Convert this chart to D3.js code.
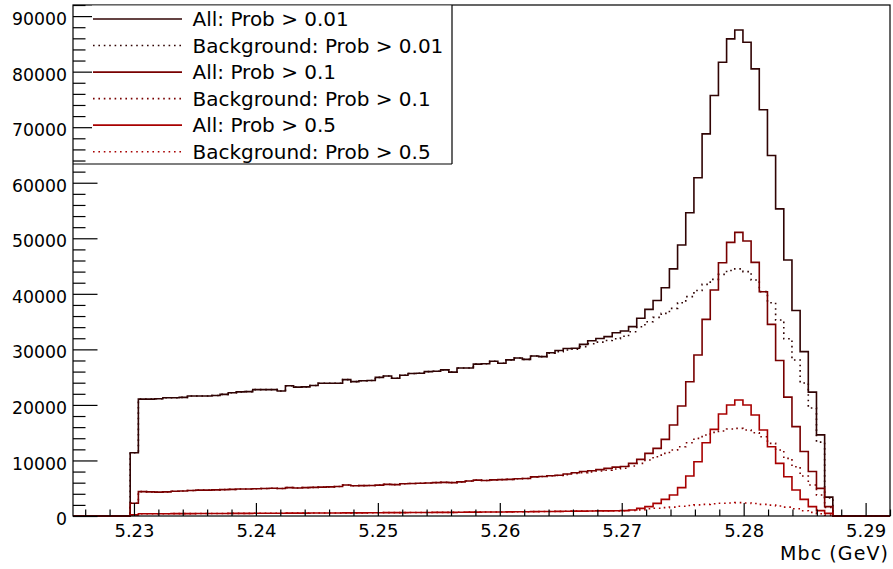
<!DOCTYPE html>
<html>
<head>
<meta charset="utf-8">
<script src="https://cdn.jsdelivr.net/npm/d3@7"></script>
<style>
  html, body { margin: 0; padding: 0; background: #fff; }
  svg { display: block; }
  text { font-family: "DejaVu Sans", sans-serif; fill: #000; }
</style>
</head>
<body>
<svg id="chart" width="893" height="569"></svg>
<script>
// ---- histogram binning ----
const binLow = 5.225;
const binWidth = 0.00067;   // 100 bins, 5.225 .. 5.292
const nBins = 100;

// ---- bin contents (bins 0..99) ----
const allProb001 = [
  0,0,0,0,0,0,0,11400,21050,21050,
  21100,21300,21300,21350,21600,21600,21600,21700,21900,22200,
  22350,22400,22750,22750,22750,22500,23450,23200,23250,23500,
  23900,23900,23900,24550,24200,24350,24400,24950,25200,24800,
  25350,25650,25700,26000,26050,26300,25900,26650,26650,27350,
  27400,27850,27500,28100,28450,28200,28800,28700,29400,29800,
  30150,30200,30900,31550,31950,32300,33000,33300,34100,35600,
  37200,38800,41100,44500,48800,54600,60900,68800,75700,81700,
  85900,87500,85300,80500,73150,64900,55300,46100,37000,29600,
  22300,14600,3400,0,0,0,0,0,0,0
];
const bkgProb001 = [
  0,0,0,0,0,0,0,11400,21050,21050,
  21100,21300,21300,21350,21600,21600,21600,21700,21900,22200,
  22350,22400,22750,22750,22750,22500,23450,23200,23250,23500,
  23900,23900,23900,24550,24200,24350,24400,24950,25200,24800,
  25350,25650,25700,26000,26050,26300,25900,26650,26650,27350,
  27400,27850,27500,28100,28450,28200,28800,28700,29300,29600,
  29900,30050,30500,31000,31300,31600,31900,32350,33180,34080,
  34980,35760,36480,37380,38400,39500,40600,41700,42600,43500,
  44200,44500,44000,42500,40400,38400,35280,31900,28080,23950,
  19450,13300,3250,0,0,0,0,0,0,0
];
const allProb01 = [
  0,0,0,0,0,0,0,2300,4380,4350,
  4300,4350,4450,4500,4600,4650,4650,4700,4750,4800,
  4850,4850,4900,4950,5000,4950,5100,5050,5100,5150,
  5200,5250,5300,5580,5450,5460,5500,5550,5700,5650,
  5800,5850,5900,5950,6000,6050,6000,6150,6300,6450,
  6400,6500,6550,6600,6700,6750,7050,7100,7250,7350,
  7550,7800,8000,8150,8350,8580,8800,8900,9480,10200,
  11280,12180,13800,16380,19800,24180,28980,35400,40680,45600,
  49260,51060,49500,45660,40380,34500,28000,21400,16100,11600,
  8000,4980,1680,0,0,0,0,0,0,0
];
const bkgProb01 = [
  0,0,0,0,0,0,0,2300,4380,4350,
  4300,4350,4450,4500,4600,4650,4650,4700,4750,4800,
  4850,4850,4900,4950,5000,4950,5100,5050,5100,5150,
  5200,5250,5300,5580,5450,5460,5500,5550,5700,5650,
  5800,5850,5900,5950,6000,6050,6000,6150,6300,6450,
  6400,6500,6550,6600,6700,6750,7050,7100,7250,7300,
  7450,7650,7800,7950,8100,8250,8450,8600,9000,9480,
  10080,10680,11280,11880,12480,13200,13980,14580,15060,15300,
  15660,15780,15480,15000,14280,13080,11880,10380,8880,7200,
  5580,3780,1560,0,0,0,0,0,0,0
];
const allProb05 = [
  0,0,0,0,0,0,0,200,400,400,
  410,410,420,430,430,440,450,450,460,470,
  470,480,490,490,500,500,510,520,520,530,
  540,540,550,570,560,570,580,590,600,600,
  610,620,630,640,650,660,660,680,690,700,
  710,720,730,740,760,770,790,800,820,840,
  860,870,880,900,920,930,950,960,1080,1380,
  1680,2280,3000,3780,5100,7200,9780,13200,15600,18360,
  19980,20880,19980,18180,15480,12480,9480,7080,4680,3000,
  1680,960,480,0,0,0,0,0,0,0
];
const bkgProb05 = [
  0,0,0,0,0,0,0,200,400,400,
  410,410,420,430,430,440,450,450,460,470,
  470,480,490,490,500,500,510,520,520,530,
  540,540,550,570,560,570,580,590,600,600,
  610,620,630,640,650,660,660,680,690,700,
  710,720,730,740,760,770,790,800,820,840,
  860,870,880,900,920,900,920,940,1000,1100,
  1300,1400,1500,1600,1750,1900,2000,2100,2200,2300,
  2350,2400,2350,2250,2100,1950,1800,1600,1300,950,
  650,400,150,0,0,0,0,0,0,0
];

const seriesNames = [
  "All: Prob > 0.01", "Background: Prob > 0.01",
  "All: Prob > 0.1",  "Background: Prob > 0.1",
  "All: Prob > 0.5",  "Background: Prob > 0.5"
];
const seriesValues = [allProb001, bkgProb001, allProb01, bkgProb01, allProb05, bkgProb05];
const seriesColors = ["#300404", "#300404", "#780000", "#780000", "#a80000", "#a80000"];
const seriesDashed = [false, true, false, true, false, true];

const xMajorTicks = [5.23, 5.24, 5.25, 5.26, 5.27, 5.28, 5.29];
const yMajorTicks = [0, 10000, 20000, 30000, 40000, 50000, 60000, 70000, 80000, 90000];
const xTitle = "Mbc (GeV)";

// ---- layout ----
const L = 73, R = 890, T = 5, B = 516;
const svg = d3.select("#chart");

const x = d3.scaleLinear().domain([binLow, binLow + nBins * binWidth]).range([L, R]);
const y = d3.scaleLinear().domain([0, 92000]).range([B, T]);

// minor tick values
const xMinor = d3.range(0, 34).map(i => +(5.226 + i * 0.002).toFixed(3))
  .filter(v => !xMajorTicks.some(m => Math.abs(m - v) < 1e-9) && v <= 5.292 + 1e-9);
const yMinor = d3.range(0, 47).map(i => i * 2000).filter(v => v % 10000 !== 0);

// ---- histograms ----
function histPath(vals) {
  let d = "";
  for (let i = 0; i < vals.length; i++) {
    const x0 = x(binLow + i * binWidth), x1 = x(binLow + (i + 1) * binWidth);
    const yy = y(vals[i]);
    d += (i === 0 ? "M" : "L") + x0 + "," + yy + "L" + x1 + "," + yy;
  }
  return d;
}

const gH = svg.append("g");
seriesValues.forEach((vals, i) => {
  gH.append("path")
    .attr("d", histPath(vals))
    .attr("fill", "none")
    .attr("stroke", seriesColors[i])
    .attr("stroke-width", 1.6)
    .attr("stroke-dasharray", seriesDashed[i] ? "1.6 3.8" : null);
});

// ---- axes ----
const xAxis = d3.axisBottom(x).tickValues(xMajorTicks).tickSizeInner(-13).tickSizeOuter(0)
  .tickPadding(8).tickFormat(d3.format(".2f"));
const gx = svg.append("g").attr("transform", `translate(0,${B})`).call(xAxis);
gx.select(".domain").remove();
gx.selectAll("text").attr("font-size", 18).style("font-family", "DejaVu Sans");
gx.selectAll("line").attr("stroke", "#000").attr("stroke-width", 1.2);

const xAxisMinor = d3.axisBottom(x).tickValues(xMinor).tickSizeInner(-6.5).tickSizeOuter(0).tickFormat("");
const gxm = svg.append("g").attr("transform", `translate(0,${B})`).call(xAxisMinor);
gxm.select(".domain").remove();
gxm.selectAll("line").attr("stroke", "#000").attr("stroke-width", 1.2);

const yAxis = d3.axisLeft(y).tickValues(yMajorTicks).tickSizeInner(-24.5).tickSizeOuter(0)
  .tickPadding(6).tickFormat(d3.format("d"));
const gy = svg.append("g").attr("transform", `translate(${L},0)`).call(yAxis);
gy.select(".domain").remove();
gy.selectAll("text").attr("font-size", 17.3).attr("y", 3).style("font-family", "DejaVu Sans");
gy.selectAll("line").attr("stroke", "#000").attr("stroke-width", 1.2);

const yAxisMinor = d3.axisLeft(y).tickValues(yMinor).tickSizeInner(-12.5).tickSizeOuter(0).tickFormat("");
const gym = svg.append("g").attr("transform", `translate(${L},0)`).call(yAxisMinor);
gym.select(".domain").remove();
gym.selectAll("line").attr("stroke", "#000").attr("stroke-width", 1.2);

// ---- frame ----
svg.append("rect").attr("x", L).attr("y", T).attr("width", R - L).attr("height", B - T)
  .attr("fill", "none").attr("stroke", "#000").attr("stroke-width", 1.2);

// ---- axis title ----
svg.append("text").attr("x", 888).attr("y", 560).attr("text-anchor", "end")
  .attr("font-size", 19).attr("textLength", 108).attr("lengthAdjust", "spacing").text(xTitle);

// ---- legend ----
const lgX0 = 92, lgX1 = 452, lgY0 = T, lgY1 = 164;
const lg = svg.append("g");
lg.append("rect").attr("x", lgX0).attr("y", lgY0 + 0.6).attr("width", lgX1 - lgX0).attr("height", lgY1 - lgY0)
  .attr("fill", "#fff");
lg.append("line").attr("x1", lgX1).attr("x2", lgX1).attr("y1", lgY0).attr("y2", lgY1).attr("stroke", "#000").attr("stroke-width", 1.2);
lg.append("line").attr("x1", L).attr("x2", lgX1).attr("y1", lgY1).attr("y2", lgY1).attr("stroke", "#000").attr("stroke-width", 1.2);
const rowY = d3.scaleLinear().domain([0, 5]).range([19, 151.7]);
seriesNames.forEach((name, i) => {
  const yy = rowY(i);
  lg.append("line").attr("x1", 93).attr("x2", 182).attr("y1", yy).attr("y2", yy)
    .attr("stroke", seriesColors[i]).attr("stroke-width", 1.6)
    .attr("stroke-dasharray", seriesDashed[i] ? "1.6 3.8" : null);
  lg.append("text").attr("x", 192.5).attr("y", yy + 7).attr("font-size", 20).text(name);
});
</script>
</body>
</html>
